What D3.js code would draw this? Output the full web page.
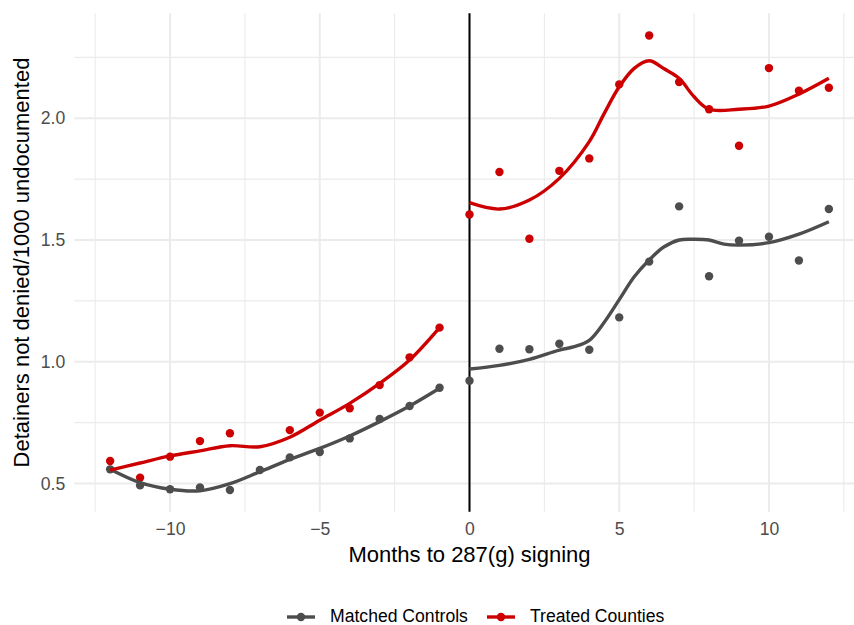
<!DOCTYPE html>
<html>
<head>
<meta charset="utf-8">
<script src="https://cdn.jsdelivr.net/npm/d3@7"></script>
<style>
  body { margin: 0; background: #fff; }
  svg { display: block; font-family: "Liberation Sans", Arial, sans-serif; }
</style>
</head>
<body>
<svg id="chart" width="854" height="625"></svg>
<script>
// months relative to signing
var months = [-12,-11,-10,-9,-8,-7,-6,-5,-4,-3,-2,-1,0,1,2,3,4,5,6,7,8,9,10,11,12];

// monthly means (null = no point drawn)
var treatedPts = [0.592,0.524,0.610,0.674,0.706,null,0.719,0.791,0.809,0.904,1.018,1.140,
                  1.605,1.779,1.505,1.784,1.835,2.139,2.340,2.149,2.037,1.887,2.206,2.113,2.125];
var controlPts = [0.558,0.492,0.476,0.484,0.473,0.555,0.607,0.629,0.685,0.765,0.818,0.893,
                  0.922,1.053,1.051,1.074,1.049,1.182,1.411,1.638,1.351,1.497,1.513,1.416,1.627];

// smoothed fits (pre and post drawn separately)
var preFitMonths  = [-12,-11,-10,-9,-8,-7,-6,-5,-4,-3,-2,-1];
var treatedPreFit = [0.555,0.584,0.613,0.634,0.655,0.651,0.690,0.760,0.829,0.911,1.007,1.140];
var controlPreFit = [0.558,0.503,0.476,0.470,0.499,0.548,0.599,0.644,0.695,0.754,0.818,0.891];

var treatedPostMonths = [0,1,2,3,4,4.5,5,5.5,6,6.5,7,7.5,8,9,10,11,12];
var treatedPostFit    = [1.653,1.627,1.664,1.753,1.904,2.020,2.129,2.205,2.236,2.203,2.164,2.088,2.037,2.037,2.050,2.099,2.164];
var controlPostMonths = [0,1,2,3,3.5,4,4.5,5,5.5,6,6.5,7,7.5,8,8.5,9,10,11,12];
var controlPostFit    = [0.970,0.985,1.010,1.048,1.062,1.088,1.162,1.255,1.349,1.418,1.472,1.500,1.503,1.500,1.483,1.479,1.489,1.524,1.575];

var xTicks = [-10,-5,0,5,10];
var yTicks = [0.5,1.0,1.5,2.0];
var seriesNames = ["Matched Controls","Treated Counties"];
var colors = ["#4D4D4D","#CC0000"];

var svg = d3.select("#chart"),
    margin = {top: 13.3, left: 74.2, bottom: 113.3, right: -10.8},
    width = 854, height = 625;

var x = d3.scaleLinear().domain([-13.2, 13.2]).range([margin.left, width - margin.right]);
var y = d3.scaleLinear().domain([0.384, 2.431]).range([height - margin.bottom, margin.top]);

var x0 = x.range()[0], x1 = x.range()[1], y0 = y.range()[1], y1 = y.range()[0];

// minor grid
var xMinor = d3.range(-12.5, 13, 5);
var yMinor = [0.75, 1.25, 1.75, 2.25];
var grid = svg.append("g").attr("stroke", "#EBEBEB");
grid.selectAll(".vminor").data(xMinor).enter().append("line")
    .attr("x1", d => x(d)).attr("x2", d => x(d)).attr("y1", y0).attr("y2", y1)
    .attr("stroke-width", 1.1)
grid.selectAll(".hminor").data(yMinor).enter().append("line")
    .attr("y1", d => y(d)).attr("y2", d => y(d)).attr("x1", x0).attr("x2", x1)
    .attr("stroke-width", 1.1)
// major grid
grid.selectAll(".vmajor").data(xTicks).enter().append("line")
    .attr("x1", d => x(d)).attr("x2", d => x(d)).attr("y1", y0).attr("y2", y1)
    .attr("stroke-width", 2)
grid.selectAll(".hmajor").data(yTicks).enter().append("line")
    .attr("y1", d => y(d)).attr("y2", d => y(d)).attr("x1", x0).attr("x2", x1)
    .attr("stroke-width", 2)

// signing line
svg.append("line")
    .attr("x1", x(0)).attr("x2", x(0)).attr("y1", y0).attr("y2", y1)
    .attr("stroke", "#000").attr("stroke-width", 2)

// axes (text only, like ggplot minimal)
var xAxis = svg.append("g")
    .attr("transform", `translate(0,${y1 + 4})`)
    .call(d3.axisBottom(x).tickValues(xTicks).tickSize(0).tickPadding(7))
xAxis.select(".domain").remove()
xAxis.selectAll("text").attr("font-size", 17.6).attr("fill", "#4D4D4D")
    .attr("font-family", "Liberation Sans, Arial, sans-serif")

var yAxis = svg.append("g")
    .attr("transform", `translate(${x0 - 4},0)`)
    .call(d3.axisLeft(y).tickValues(yTicks).tickFormat(d3.format(".1f")).tickSize(0).tickPadding(5))
yAxis.select(".domain").remove()
yAxis.selectAll("text").attr("font-size", 17.6).attr("fill", "#4D4D4D")
    .attr("font-family", "Liberation Sans, Arial, sans-serif")

// axis titles
svg.append("text")
    .attr("x", x(0)).attr("y", 562)
    .attr("text-anchor", "middle").attr("font-size", 22).attr("fill", "#000")
    .text("Months to 287(g) signing")
svg.append("text")
    .attr("transform", `translate(29,${(y0 + y1) / 2}) rotate(-90)`)
    .attr("text-anchor", "middle").attr("font-size", 22).attr("fill", "#000")
    .text("Detainers not denied/1000 undocumented")

// points
var ptSets = [controlPts, treatedPts];
ptSets.forEach(function(vals, k) {
    svg.append("g").attr("fill", colors[k])
        .selectAll("circle")
        .data(months.map((m, i) => ({m: m, v: vals[i]})).filter(d => d.v != null))
        .enter().append("circle")
        .attr("cx", d => x(d.m)).attr("cy", d => y(d.v)).attr("r", 4.2)
})

// smooth fits
var line = d3.line().x(d => x(d[0])).y(d => y(d[1])).curve(d3.curveCatmullRom.alpha(0.5));
var fits = [
    [preFitMonths, controlPreFit, 0],
    [controlPostMonths, controlPostFit, 0],
    [preFitMonths, treatedPreFit, 1],
    [treatedPostMonths, treatedPostFit, 1]
];
fits.forEach(function(f) {
    svg.append("path")
        .datum(f[0].map((m, i) => [m, f[1][i]]))
        .attr("d", line)
        .attr("fill", "none").attr("stroke", colors[f[2]])
        .attr("stroke-width", 3.4).attr("stroke-linejoin", "round")
})

// legend
var legendX = [287, 487];
var legendY = 617;
for (var k = 0; k < seriesNames.length; k++) {
    svg.append("line")
        .attr("x1", legendX[k]).attr("x2", legendX[k] + 28)
        .attr("y1", legendY).attr("y2", legendY)
        .attr("stroke", colors[k]).attr("stroke-width", 3.4)
    svg.append("circle").attr("cx", legendX[k] + 14).attr("cy", legendY).attr("r", 4.2).attr("fill", colors[k])
    svg.append("text").attr("x", legendX[k] + 43).attr("y", legendY + 4.5)
        .attr("font-size", 17.6).attr("fill", "#000")
        .text(seriesNames[k])
}
</script>
</body>
</html>
